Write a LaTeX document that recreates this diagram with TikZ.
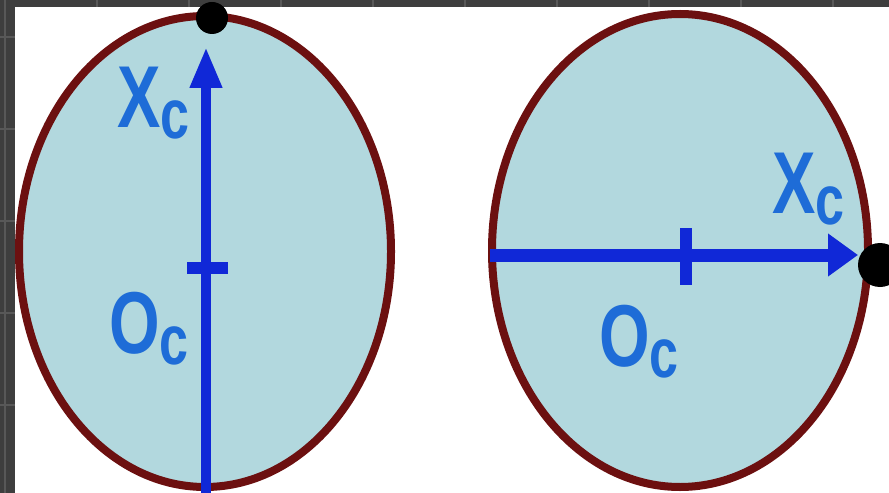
\documentclass[tikz,border=0pt]{standalone}
\usepackage{fontspec}
\usetikzlibrary{arrows.meta}
\newfontfamily\lblfont[FakeStretch=0.74]{Liberation Sans Bold}
\definecolor{frame}{RGB}{62,62,62}
\definecolor{gridgray}{RGB}{88,88,88}
\definecolor{shellfill}{RGB}{178,216,222}
\definecolor{shellrim}{RGB}{108,16,16}
\definecolor{axisblue}{RGB}{16,40,215}
\definecolor{lblblue}{RGB}{30,108,215}
\newcommand\lowc{\raisebox{-2.2mm}{\fontsize{40}{40}\selectfont c}}

\begin{document}
\begin{tikzpicture}[x=0.2mm, y=-0.2mm,
    shell/.style={draw=shellrim, fill=shellfill, line width=1.6mm},
    axisline/.style={draw=axisblue, line width=2mm},
    tickmark/.style={draw=axisblue, line width=2.5mm},
    dot/.style={circle, fill=black, inner sep=0pt},
    lbl/.style={anchor=base west, inner sep=0pt, text=lblblue, font=\lblfont\fontsize{50}{50}\selectfont}
  ]
    \useasboundingbox (0,0) rectangle (889,493);
    % Sfondo scuro con griglia
    \fill[frame] (0,0) rectangle (889,493);
    \foreach \gx in {5,97,...,889} \draw[gridgray, line width=0.3mm] (\gx,0) -- (\gx,493);
    \foreach \gy in {37,129,...,493} \draw[gridgray, line width=0.3mm] (0,\gy) -- (889,\gy);
    \fill[white] (15,7) rectangle (889,493);

    % --- SINISTRA: asse verticale ---
    \draw[shell] (205,251.5) ellipse [x radius=186, y radius=235.5];
    \coordinate (ls) at (206,493);
    \coordinate (lt) at (206,47);
    \draw[axisline, -{Triangle[width=6mm, length=8.2mm]}] (ls) -- (lt);
    \draw[tickmark] (187,268) -- (228,268);
    \node[dot, minimum size=6.4mm] (pl) at (212,18) {};
    \node[lbl] (xl) at (117,128) {X\lowc};
    \node[lbl] (ol) at (109,353) {O\lowc};

    % --- DESTRA: asse orizzontale ---
    \draw[shell] (680,250.5) ellipse [x radius=188, y radius=236.5];
    \coordinate (rs) at (490,255);
    \coordinate (rt) at (858,255);
    \draw[axisline, line width=2.6mm, -{Triangle[width=8.2mm, length=6mm]}] (rs) -- (rt);
    \draw[tickmark] (686,228) -- (686,285);
    \node[dot, minimum size=8.8mm] (pr) at (880,265) {};
    \node[lbl] (xr) at (772,213) {X\lowc};
    \node[lbl] (or) at (599,366) {O\lowc};
\end{tikzpicture}
\end{document}
